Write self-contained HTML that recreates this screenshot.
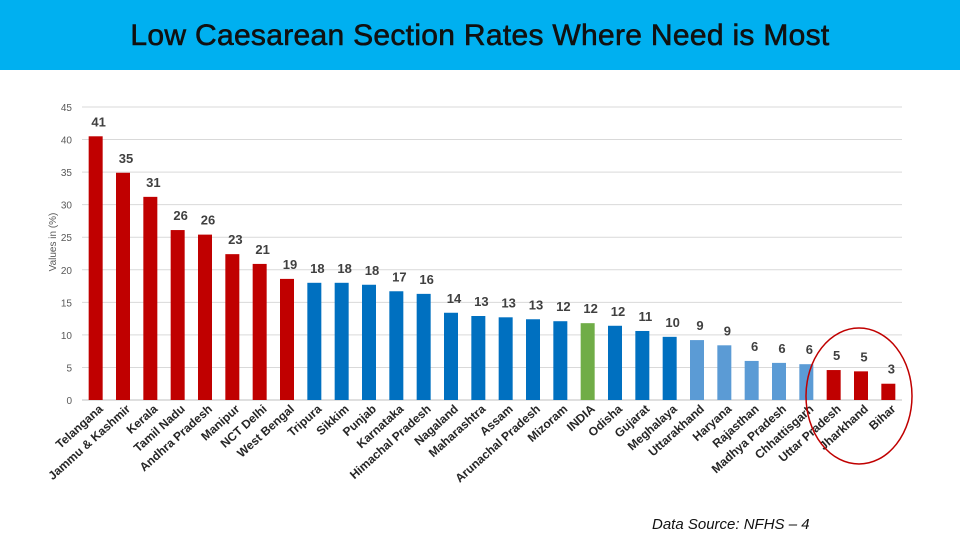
<!DOCTYPE html>
<html><head><meta charset="utf-8"><style>
body{margin:0;width:960px;height:540px;background:#fff;overflow:hidden;font-family:"Liberation Sans",sans-serif}
#hdr{position:absolute;left:0;top:0;width:960px;height:70px;background:#00B0F0}
#hdr h1{margin:0;color:#111;font-size:30px;font-weight:normal;text-align:center;line-height:72px;-webkit-text-stroke:0.6px #111;letter-spacing:0.3px}
#src{position:absolute;left:652px;top:516px;font-size:15px;font-style:italic;color:#111}
</style></head><body>
<div id="hdr"><h1>Low Caesarean Section Rates Where Need is Most</h1></div>
<svg id="chart" width="960" height="540" style="position:absolute;left:0;top:0"></svg>
<div id="src">Data Source: NFHS – 4</div>
<script>
const categories=["Telangana","Jammu & Kashmir","Kerala","Tamil Nadu","Andhra Pradesh","Manipur","NCT Delhi","West Bengal","Tripura","Sikkim","Punjab","Karnataka","Himachal Pradesh","Nagaland","Maharashtra","Assam","Arunachal Pradesh","Mizoram","INDIA","Odisha","Gujarat","Meghalaya","Uttarakhand","Haryana","Rajasthan","Madhya Pradesh","Chhattisgarh","Uttar Pradesh","Jharkhand","Bihar"];
const values=[40.5,34.9,31.2,26.1,25.4,22.4,20.9,18.6,18.0,18.0,17.7,16.7,16.3,13.4,12.9,12.7,12.4,12.1,11.8,11.4,10.6,9.7,9.2,8.4,6.0,5.7,5.5,4.6,4.4,2.5];
const printed=["41","35","31","26","26","23","21","19","18","18","18","17","16","14","13","13","13","12","12","12","11","10","9","9","6","6","6","5","5","3"];
const groups=["r","r","r","r","r","r","r","r","b","b","b","b","b","b","b","b","b","b","g","b","b","b","l","l","l","l","l","r","r","r"];
const yTicks=[0,5,10,15,20,25,30,35,40,45];
const colors={r:"#C00000",b:"#0070C0",g:"#70AD47",l:"#5B9BD5"};
const svg=document.getElementById('chart');const NS="http://www.w3.org/2000/svg";
const X0=82,X1=902,Y0=400,Y1=107,YMAX=45;
const slot=(X1-X0)/categories.length;
const y=v=>Y0-(v/YMAX)*(Y0-Y1);
const xc=i=>X0+slot*(i+0.5);
function mk(t,a,txt){const e=document.createElementNS(NS,t);for(const k in a)e.setAttribute(k,a[k]);if(txt!==undefined)e.textContent=txt;svg.appendChild(e);return e;}
yTicks.forEach(t=>{
 const g=mk('line',{x1:X0,x2:X1,y1:y(t),y2:y(t),stroke:t===0?'#BFBFBF':'#D9D9D9','stroke-width':1});
 
 
 const l=mk('text',{x:72,y:y(t)+4,'text-anchor':'end','font-size':10,fill:'#595959'},t);
 
 
});
const yt=mk('text',{x:0,y:0,transform:'translate(56,242) rotate(-90)','text-anchor':'middle','font-size':10,fill:'#595959'},'Values in (%)');


categories.forEach((c,i)=>{
 const cx=xc(i),top=y(values[i]);
 const b=mk('rect',{x:cx-7,y:top,width:14,height:Y0-top,fill:colors[groups[i]]});
 
 
 const v=mk('text',{x:cx+3,y:top-10,'text-anchor':'middle','font-size':13,'font-weight':'bold',fill:'#404040'},printed[i]);
 
 
 const l=mk('text',{x:0,y:0,transform:`translate(${cx+8},${Y0+10}) rotate(-42)`,'text-anchor':'end','font-size':12,'font-weight':'bold',fill:'#262626'},c);
 
 
});
const e=mk('ellipse',{cx:859,cy:396,rx:53,ry:68,fill:'none',stroke:'#C00000','stroke-width':1.5});


</script>
</body></html>
